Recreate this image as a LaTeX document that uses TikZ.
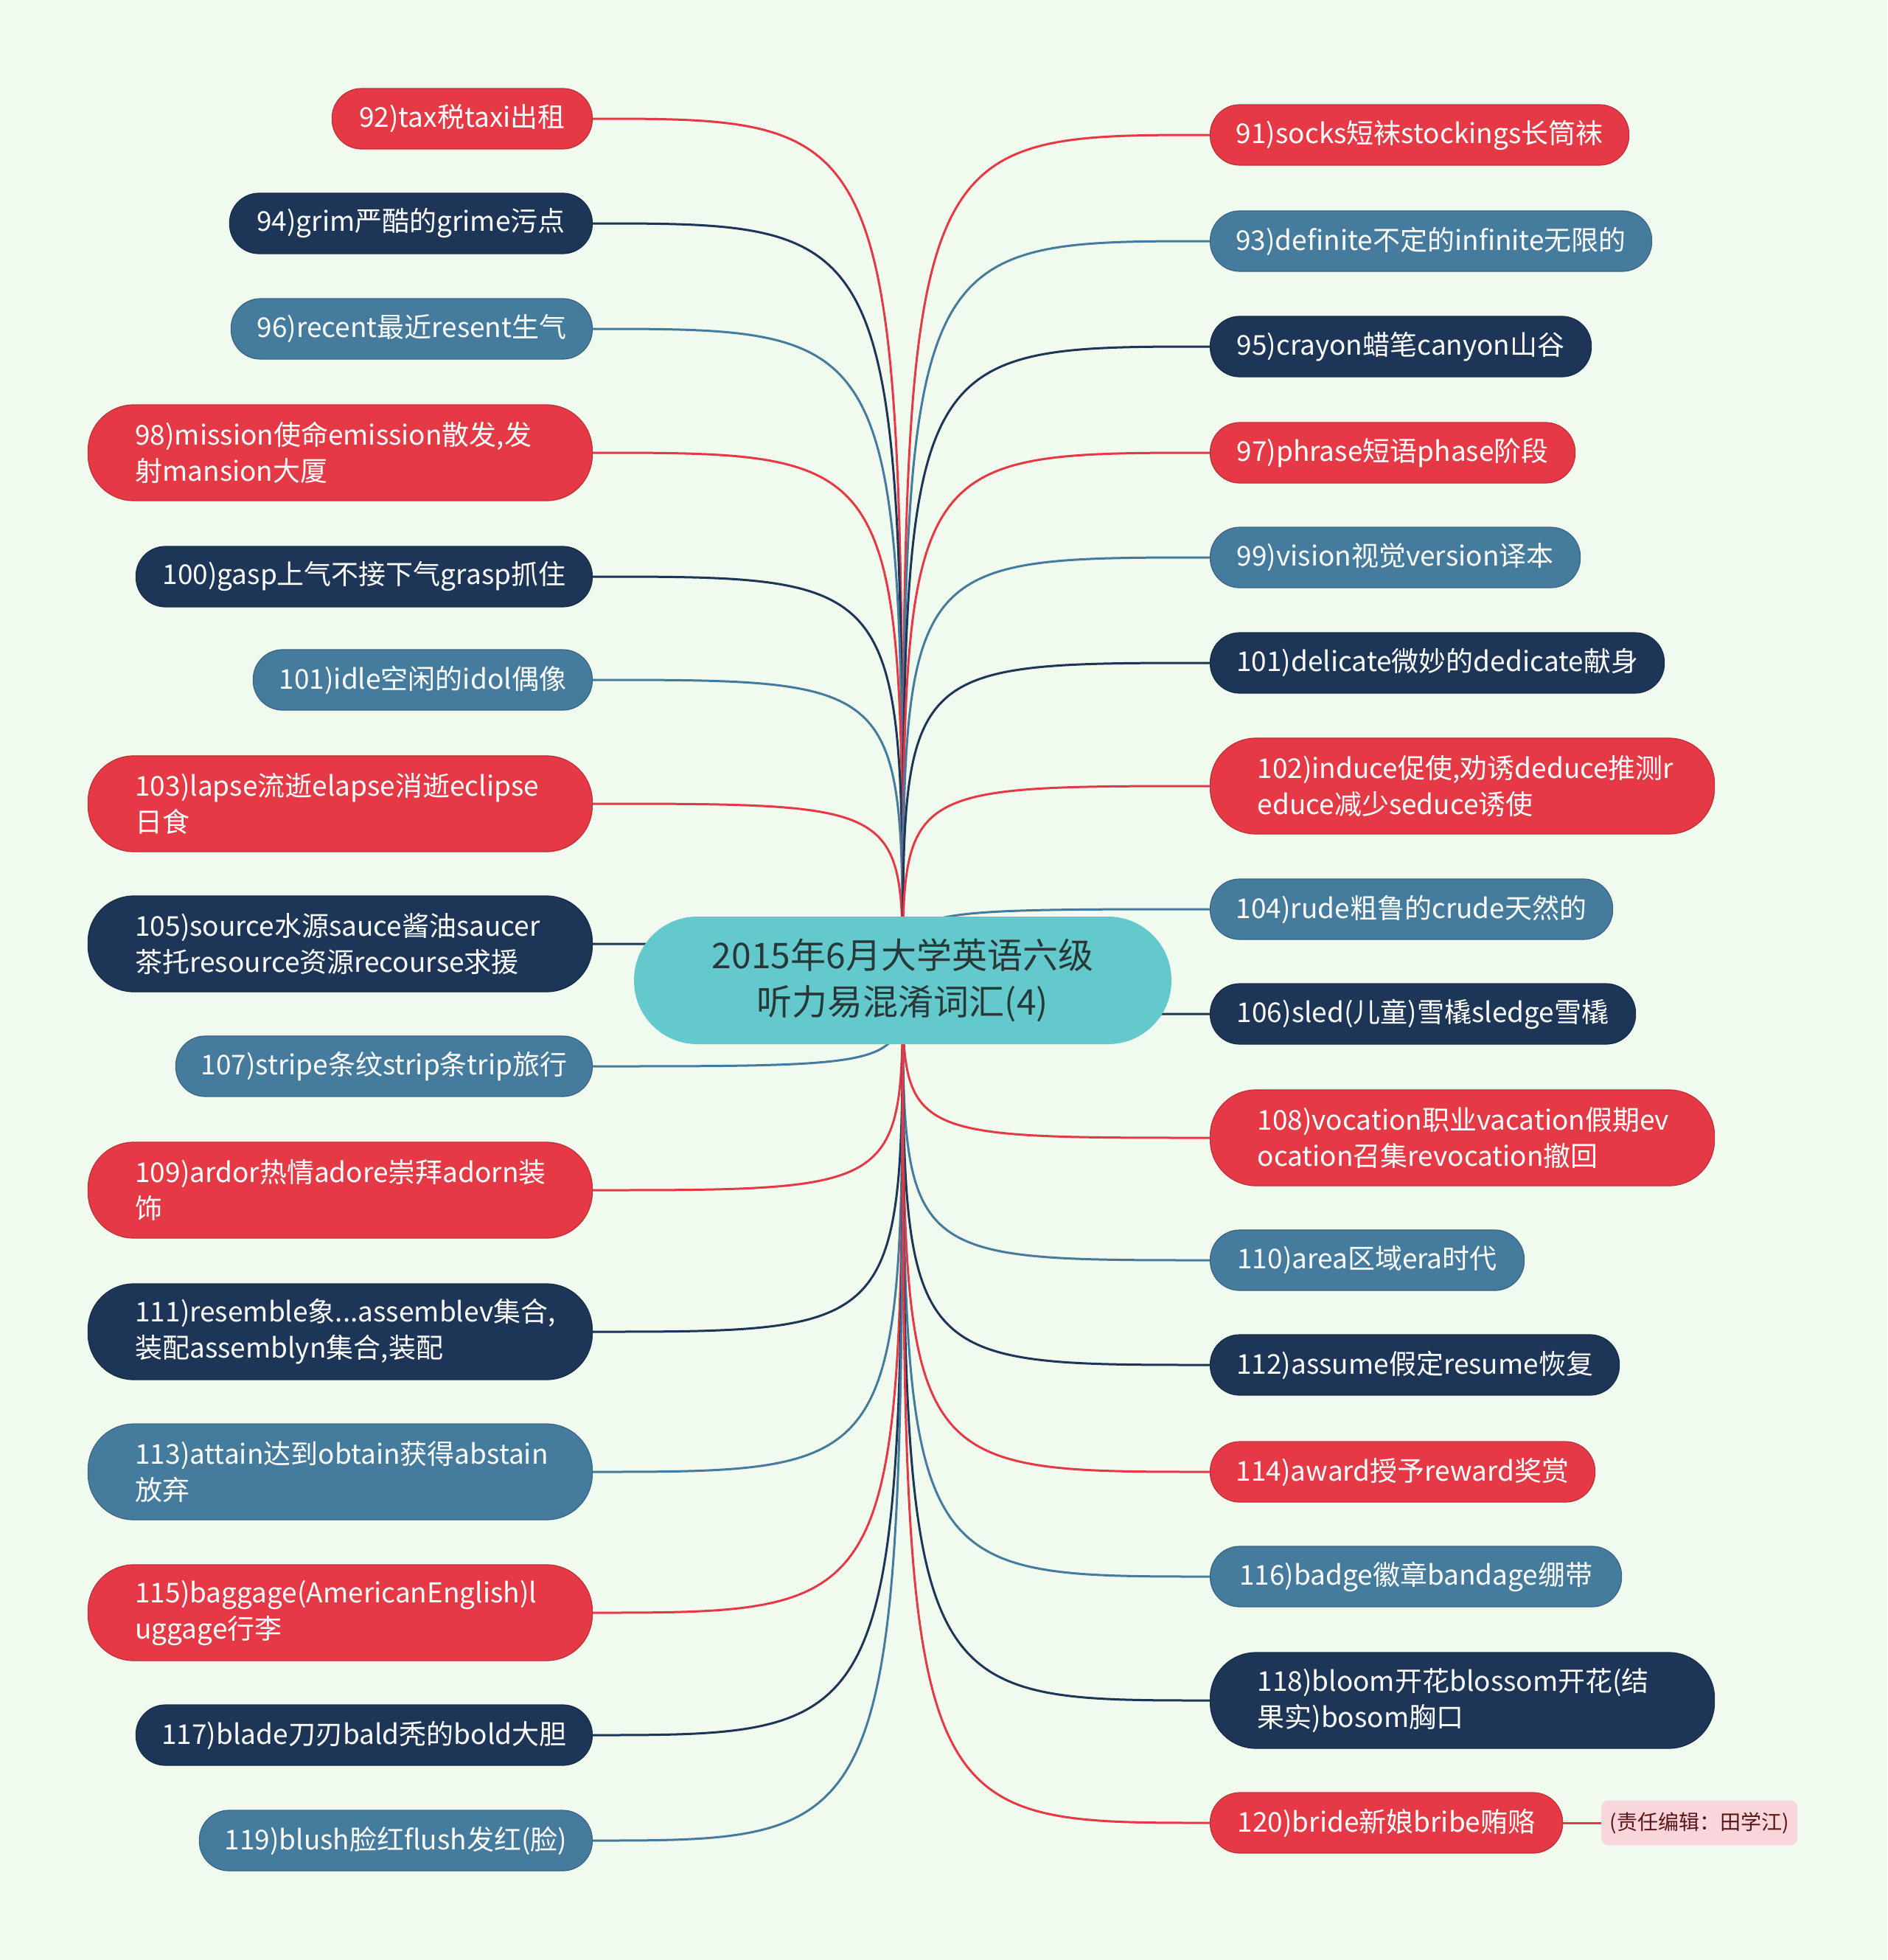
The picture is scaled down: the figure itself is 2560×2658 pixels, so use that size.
\documentclass[tikz,border=0pt]{standalone}
\usepackage{fontspec}
\setmainfont{Noto Sans CJK SC}
\usetikzlibrary{calc}
\definecolor{bgc}{HTML}{F1FAEE}
\definecolor{cred}{HTML}{E63946}
\definecolor{cnavy}{HTML}{1D3557}
\definecolor{csteel}{HTML}{457B9D}
\definecolor{chub}{HTML}{63C9CC}
\definecolor{chubtext}{HTML}{283838}
\definecolor{cnote}{HTML}{F9D6DB}
\definecolor{cnotetext}{HTML}{5A1616}
\pgfdeclarelayer{bg}
\pgfsetlayers{bg,main}
\tikzset{
  leaf/.style={rectangle, rounded corners=40pt, minimum height=82pt,
    inner xsep=8pt, inner ysep=0pt, text=white,
    font=\fontsize{37}{49}\selectfont, fill=#1, draw=#1!82!black, line width=1.2pt},
  twoline/.style={rounded corners=62pt, minimum height=130pt, inner xsep=64pt,
    align=left, text width=556pt},
  lleaf/.style={leaf=#1, anchor=east},
  rleaf/.style={leaf=#1, anchor=west},
  hubnode/.style={rectangle, rounded corners=86pt, minimum width=729pt,
    minimum height=173pt, fill=chub, text=chubtext, align=center,
    font=\fontsize{48}{63}\selectfont, inner sep=0pt},
  notenode/.style={rectangle, rounded corners=10pt, fill=cnote, text=cnotetext,
    font=\fontsize{28}{34}\selectfont, minimum width=266pt, minimum height=61pt,
    inner sep=0pt, anchor=west},
  link/.style={line width=3pt, #1},
}
\begin{document}
\begin{tikzpicture}[x=1pt,y=-1pt]
\begin{pgfonlayer}{bg}
\fill[bgc] (0,0) rectangle (2560,2658);
\end{pgfonlayer}
\useasboundingbox (0,0) rectangle (2560,2658);

\node[hubnode] (c) at (1224.5,1329.5) {2015年6月大学英语六级\\听力易混淆词汇(4)};

% left column
\node[lleaf=cred,   minimum width=353pt] (l92)  at (804,161)  {92)tax税taxi出租};
\node[lleaf=cnavy,  minimum width=492pt] (l94)  at (804,303)  {94)grim严酷的grime污点};
\node[lleaf=csteel, minimum width=490pt] (l96)  at (804,446)  {96)recent最近resent生气};
\node[lleaf=cred,   twoline]             (l98)  at (804,614)  {98)mission使命emission散发,发\\射mansion大厦};
\node[lleaf=cnavy,  minimum width=619pt] (l100) at (804,782)  {100)gasp上气不接下气grasp抓住};
\node[lleaf=csteel, minimum width=460pt] (l101) at (804,922)  {101)idle空闲的idol偶像};
\node[lleaf=cred,   twoline]             (l103) at (804,1090) {103)lapse流逝elapse消逝eclipse\\日食};
\node[lleaf=cnavy,  twoline]             (l105) at (804,1280) {105)source水源sauce酱油saucer\\茶托resource资源recourse求援};
\node[lleaf=csteel, minimum width=565pt] (l107) at (804,1446) {107)stripe条纹strip条trip旅行};
\node[lleaf=cred,   twoline]             (l109) at (804,1614) {109)ardor热情adore崇拜adorn装\\饰};
\node[lleaf=cnavy,  twoline]             (l111) at (804,1806) {111)resemble象...assemblev集合,\\装配assemblyn集合,装配};
\node[lleaf=csteel, twoline]             (l113) at (804,1996) {113)attain达到obtain获得abstain\\放弃};
\node[lleaf=cred,   twoline]             (l115) at (804,2187) {115)baggage(AmericanEnglish)l\\uggage行李};
\node[lleaf=cnavy,  minimum width=619pt] (l117) at (804,2353) {117)blade刀刃bald秃的bold大胆};
\node[lleaf=csteel, minimum width=533pt] (l119) at (804,2496) {119)blush脸红flush发红(脸)};

% right column
\node[rleaf=cred,   minimum width=568pt] (r91)  at (1641,183)  {91)socks短袜stockings长筒袜};
\node[rleaf=csteel, minimum width=599pt] (r93)  at (1641,327)  {93)definite不定的infinite无限的};
\node[rleaf=cnavy,  minimum width=517pt] (r95)  at (1641,470)  {95)crayon蜡笔canyon山谷};
\node[rleaf=cred,   minimum width=495pt] (r97)  at (1641,614)  {97)phrase短语phase阶段};
\node[rleaf=csteel, minimum width=502pt] (r99)  at (1641,756)  {99)vision视觉version译本};
\node[rleaf=cnavy,  minimum width=616pt] (r101) at (1641,899)  {101)delicate微妙的dedicate献身};
\node[rleaf=cred,   twoline]             (r102) at (1641,1066) {102)induce促使,劝诱deduce推测r\\educe减少seduce诱使};
\node[rleaf=csteel, minimum width=546pt] (r104) at (1641,1233) {104)rude粗鲁的crude天然的};
\node[rleaf=cnavy,  minimum width=577pt] (r106) at (1641,1375) {106)sled(儿童)雪橇sledge雪橇};
\node[rleaf=cred,   twoline]             (r108) at (1641,1543) {108)vocation职业vacation假期ev\\ocation召集revocation撤回};
\node[rleaf=csteel, minimum width=426pt] (r110) at (1641,1709) {110)area区域era时代};
\node[rleaf=cnavy,  minimum width=555pt] (r112) at (1641,1851) {112)assume假定resume恢复};
\node[rleaf=cred,   minimum width=522pt] (r114) at (1641,1996) {114)award授予reward奖赏};
\node[rleaf=csteel, minimum width=558pt] (r116) at (1641,2138) {116)badge徽章bandage绷带};
\node[rleaf=cnavy,  twoline]             (r118) at (1641,2306) {118)bloom开花blossom开花(结\\果实)bosom胸口};
\node[rleaf=cred,   minimum width=478pt] (r120) at (1641,2472) {120)bride新娘bribe贿赂};

\node[notenode] (note) at (2172,2472) {(责任编辑：田学江)};

\begin{pgfonlayer}{bg}
\foreach \n/\col in {l92/cred,l94/cnavy,l96/csteel,l98/cred,l100/cnavy,l101/csteel,
  l103/cred,l105/cnavy,l107/csteel,l109/cred,l111/cnavy,l113/csteel,l115/cred,
  l117/cnavy,l119/csteel}
  \draw[link=\col] (c.center) .. controls (c.center |- \n.east) .. (\n.east);
\foreach \n/\col in {r91/cred,r93/csteel,r95/cnavy,r97/cred,r99/csteel,r101/cnavy,
  r102/cred,r104/csteel,r106/cnavy,r108/cred,r110/csteel,r112/cnavy,r114/cred,
  r116/csteel,r118/cnavy,r120/cred}
  \draw[link=\col] (c.center) .. controls (c.center |- \n.west) .. (\n.west);
\draw[link=cred] (r120.east) -- (note.west);
\end{pgfonlayer}
\end{tikzpicture}
\end{document}
